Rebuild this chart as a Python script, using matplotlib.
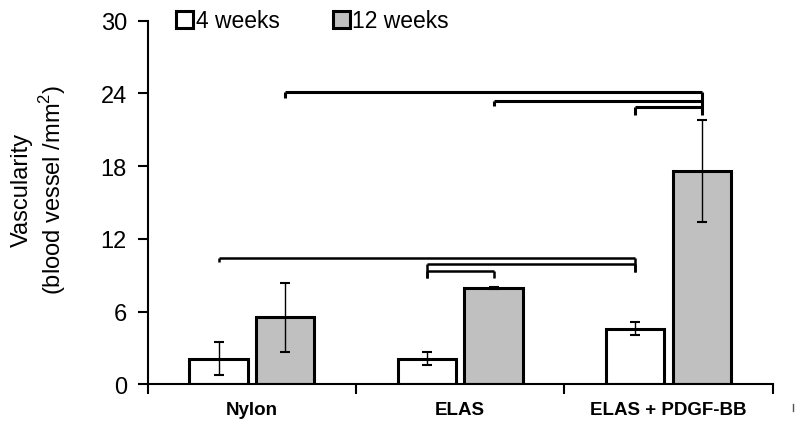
import numpy as np
import matplotlib
matplotlib.use("Agg")
import matplotlib.pyplot as plt
from matplotlib.lines import Line2D

plt.rcParams["font.family"] = ["Liberation Sans", "DejaVu Sans"]
plt.rcParams["mathtext.fontset"] = "custom"
plt.rcParams["mathtext.rm"] = "Liberation Sans"

# ── data ──────────────────────────────────────────────
categories = ["Nylon", "ELAS", "ELAS + PDGF-BB"]
series = ["4 weeks", "12 weeks"]
wk4 = [2.1, 2.1, 4.6]
wk4_err = [1.35, 0.55, 0.5]
wk12 = [5.55, 7.95, 17.6]
wk12_err = [2.85, 0.12, 4.2]
yticks = [0, 6, 12, 18, 24, 30]

# significance brackets: (group a, series a, group b, series b, height, left foot, right foot)
brackets = [
    (0, 1, 2, 1, 24.1, 23.65, 22.2),
    (1, 1, 2, 1, 23.4, 23.0, None),
    (2, 0, 2, 1, 22.9, 22.25, None),
    (0, 0, 2, 0, 10.45, 10.1, 9.3),
    (1, 0, 2, 0, 9.93, 8.75, 9.3),
    (1, 0, 1, 1, 9.33, 8.75, 8.75),
]

# ── figure ────────────────────────────────────────────
fig = plt.figure(figsize=(8, 4.35), dpi=100)
ax = fig.add_axes([0.1846, 0.1143, 0.7813, 0.8356])

x = np.arange(len(categories))
off = 0.16
w = 0.28
bar_x = [x - off, x + off]

ax.bar(bar_x[0], wk4, w, color="white", edgecolor="black", linewidth=2.2,
       label=series[0], zorder=2)
ax.bar(bar_x[1], wk12, w, color="#c0c0c0", edgecolor="black", linewidth=2.2,
       label=series[1], zorder=2)
ax.errorbar(bar_x[0], wk4, yerr=wk4_err, fmt="none", ecolor="black",
            elinewidth=1, capsize=3.5, capthick=1.5, zorder=3)
ax.errorbar(bar_x[1], wk12, yerr=wk12_err, fmt="none", ecolor="black",
            elinewidth=1, capsize=3.5, capthick=1.5, zorder=3)

for ga, sa, gb, sb, h, lf, rf in brackets:
    xa = bar_x[sa][ga]
    xb = bar_x[sb][gb]
    lw = 2.2 if h > 20 else 1.8
    ax.plot([xa, xb], [h, h], color="black", lw=lw, solid_capstyle="butt", zorder=4)
    if lf is not None:
        ax.plot([xa, xa], [h, lf], color="black", lw=lw, solid_capstyle="butt", zorder=4)
    if rf is not None:
        ax.plot([xb, xb], [h, rf], color="black", lw=lw, solid_capstyle="butt", zorder=4)

ax.set_xlim(-0.5, 2.5)
ax.set_ylim(0, 30)
ax.set_yticks(yticks)
ax.set_yticklabels([str(t) for t in yticks], fontsize=17)
ax.set_xticks(x)
ax.set_xticklabels(categories, fontsize=13.5, fontweight="bold")
ax.set_xticks([-0.5, 0.5, 1.5, 2.5], minor=True)
ax.tick_params(axis="x", which="major", length=0, pad=12)
ax.tick_params(axis="x", which="minor", length=7, width=1.5, direction="out")
ax.tick_params(axis="y", length=7, width=1.5, direction="out", pad=8)

for s in ["top", "right"]:
    ax.spines[s].set_visible(False)
for s in ["left", "bottom"]:
    ax.spines[s].set_linewidth(1.5)

ax.set_ylabel("Vascularity\n(blood vessel /mm$^2$)", fontsize=17, linespacing=1.15)
ax.yaxis.set_label_coords(-0.128, 0.537)

ax.legend(loc="center left", bbox_to_anchor=(0.027, 1.0), ncol=2, frameon=False,
          fontsize=16.5, handlelength=0.75, handleheight=0.75, handletextpad=0.12,
          columnspacing=2.3, borderpad=0)

# small stray mark at the right of the axis, as in the source image
fig.add_artist(Line2D([0.991, 0.991], [0.053, 0.068], color="#555555", lw=1))

fig.savefig("out.png", dpi=100)
